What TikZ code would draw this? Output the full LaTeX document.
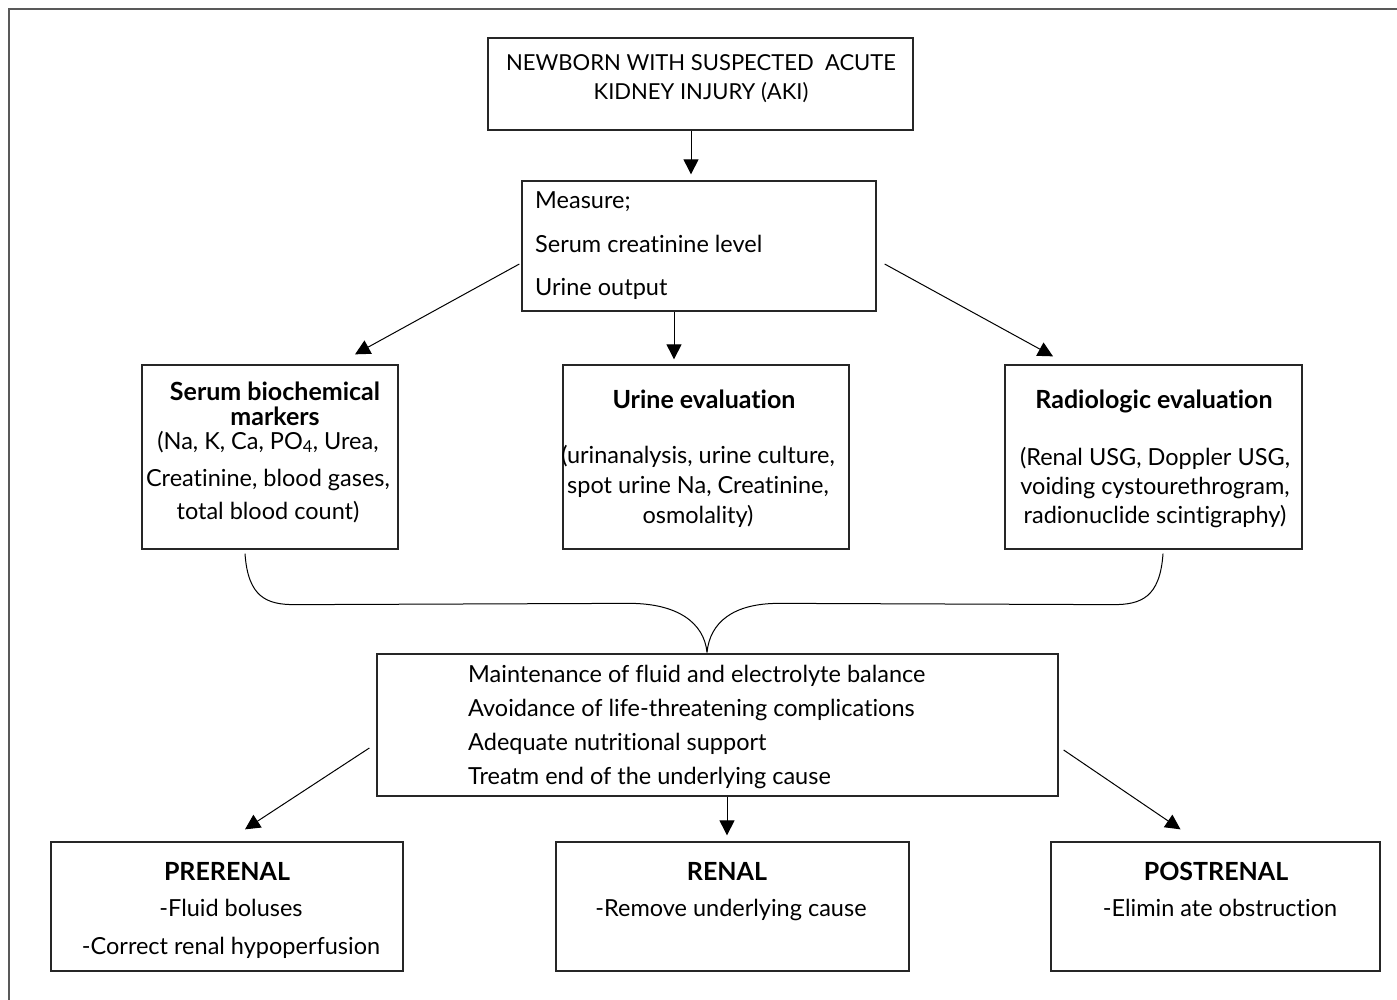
\documentclass[tikz,border=0pt]{standalone}
\usepackage{fontspec}
\setmainfont{Lato}[Ligatures=NoCommon]
\usetikzlibrary{arrows.meta,calc}
\newcommand{\fsz}{\fontsize{23.5}{27}\selectfont}
\newcommand{\fszb}{\fontsize{25}{29}\selectfont\bfseries}
\newcommand{\fszt}{\fontsize{22}{26}\selectfont}
\begin{document}
\begin{tikzpicture}[x=1pt,y=-1pt,
  box/.style={draw=black!85, line width=1.3pt, inner sep=0pt, rectangle},
  arr/.style={draw=black, line width=1pt, -{Triangle[length=15pt,width=15pt]}},
  brace/.style={draw=black, line width=1pt},
  txt/.style={font=\fsz, inner sep=0pt, anchor=base},
  ttxt/.style={font=\fszt, inner sep=0pt, anchor=base},
  ltxt/.style={font=\fsz, inner sep=0pt, anchor=base west},
  btxt/.style={font=\fszb, inner sep=0pt, anchor=base},
  frame/.style={draw=black!65, line width=2pt}]
\useasboundingbox (0,0) rectangle (1397,1000);
\draw[frame] (9,1000) -- (9,9) -- (1397,9);

% boxes
\node[box, minimum width=425pt, minimum height=92pt] (top) at (700.5,84) {};
\node[box, minimum width=354pt, minimum height=130pt] (measure) at (699,246) {};
\node[box, minimum width=256pt, minimum height=184pt] (serum) at (270,457) {};
\node[box, minimum width=286pt, minimum height=184pt] (urine) at (706,457) {};
\node[box, minimum width=297pt, minimum height=184pt] (radio) at (1153.5,457) {};
\node[box, minimum width=681pt, minimum height=142pt] (maint) at (717.5,725) {};
\node[box, minimum width=352pt, minimum height=129pt] (pre) at (227,906.5) {};
\node[box, minimum width=353pt, minimum height=129pt] (renal) at (732.5,906.5) {};
\node[box, minimum width=329pt, minimum height=129pt] (post) at (1215.5,906.5) {};

% texts
\node[ttxt] (t1) at (701,70.5) {NEWBORN WITH SUSPECTED~ ACUTE};
\node[ttxt] (t2) at (701,99.5) {KIDNEY INJURY (AKI)};

\node[ltxt] (m1) at (535,209) {Measure;};
\node[ltxt] (m2) at (535,253) {Serum creatinine level};
\node[ltxt] (m3) at (535,295) {Urine output};

\node[btxt] (s1) at (275,400) {Serum biochemical};
\node[btxt] (s2) at (275,425) {markers};
\node[txt] (s3) at (268,449) {(Na, K, Ca, PO\textsubscript{4}, Urea,};
\node[txt] (s4) at (268,486) {Creatinine, blood gases,};
\node[txt] (s5) at (268,519) {total blood count)};

\node[btxt] (u1) at (704,408) {Urine evaluation};
\node[txt] (u2) at (698,463) {(urinanalysis, urine culture,};
\node[txt] (u3) at (698,493) {spot urine Na, Creatinine,};
\node[txt] (u4) at (698,523) {osmolality)};

\node[btxt] (r1) at (1154,408) {Radiologic evaluation};
\node[txt] (r2) at (1155,465) {(Renal USG, Doppler USG,};
\node[txt] (r3) at (1155,494) {voiding cystourethrogram,};
\node[txt] (r4) at (1155,523) {radionuclide scintigraphy)};

\node[ltxt] (a1) at (468,682) {Maintenance of fluid and electrolyte balance};
\node[ltxt] (a2) at (468,716) {Avoidance of life-threatening complications};
\node[ltxt] (a3) at (468,750) {Adequate nutritional support};
\node[ltxt] (a4) at (468,784) {Treatm end of the underlying cause};

\node[btxt] (p1) at (227,880) {PRERENAL};
\node[txt] (p2) at (231,916) {-Fluid boluses};
\node[txt] (p3) at (231,954) {-Correct renal hypoperfusion};

\node[btxt] (n1) at (727,880) {RENAL};
\node[txt] (n2) at (731,916) {-Remove underlying cause};

\node[btxt] (o1) at (1216,880) {POSTRENAL};
\node[txt] (o2) at (1220,916) {-Elimin ate obstruction};

% arrows
\draw[arr] ($(top.south)+(-9.5,0)$) -- ($(measure.north)+(-8,-6)$);
\draw[arr] ($(measure.south)+(-25,0)$) -- ($(urine.north)+(-32,-5)$);
\draw[arr] ($(measure.west)+(-2,18)$) -- ($(serum.north)+(85,-10)$);
\draw[arr] ($(measure.east)+(8,18)$) -- ($(radio.north)+(-100.5,-8)$);
\draw[arr] ($(maint.west)+(-7,23)$) -- ($(pre.north)+(18,-12)$);
\draw[arr] ($(maint.south)+(9.5,0)$) -- ($(renal.north)+(-5.5,-6)$);
\draw[arr] ($(maint.east)+(5,25)$) -- ($(post.north)+(-35,-12)$);

% brace
\coordinate (bl) at ($(serum.south)+(-25,4)$);
\coordinate (br) at ($(radio.south)+(9.5,4)$);
\coordinate (bt) at ($(maint.north)+(-10.5,-1)$);
\draw[brace] (bl) .. controls ($(bl)+(3,44)$) and ($(bl)+(22,51)$) .. ($(bl)+(50,51)$)
  -- ($(bt)+(-78,-49)$) .. controls ($(bt)+(-30,-49)$) and ($(bt)+(-3,-30)$) .. (bt);
\draw[brace] (br) .. controls ($(br)+(-3,44)$) and ($(br)+(-22,51)$) .. ($(br)+(-50,51)$)
  -- ($(bt)+(72,-49)$) .. controls ($(bt)+(26,-49)$) and ($(bt)+(3,-30)$) .. (bt);
\end{tikzpicture}
\end{document}
